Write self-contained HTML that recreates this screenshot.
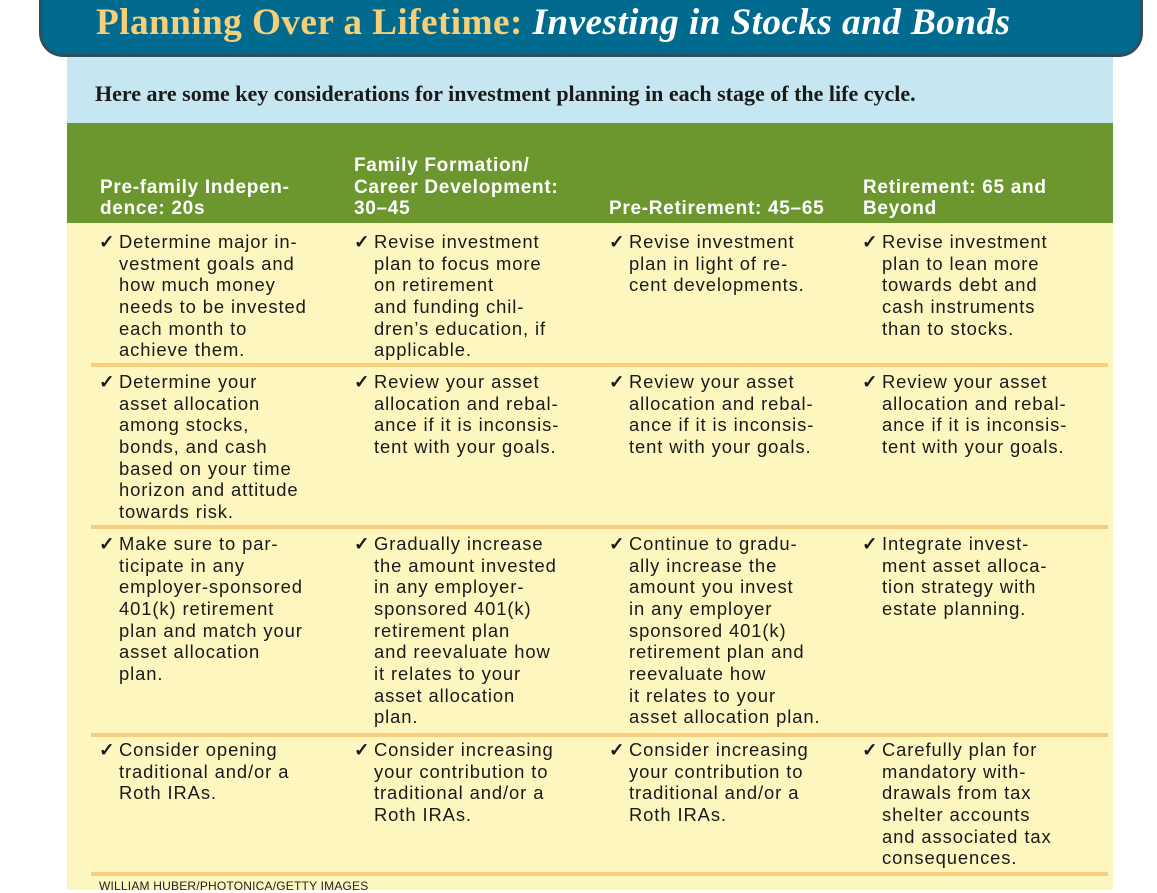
<!DOCTYPE html>
<html><head><meta charset="utf-8">
<style>
body{margin:0;width:1157px;height:890px;overflow:hidden;background:#fff;position:relative;font-family:"Liberation Sans",Arial,sans-serif}
.abs{position:absolute}
#title{left:39px;top:-4px;width:1098px;height:58px;background:#006b8f;border:3px solid #2e4f5e;border-top:none;border-radius:0 0 24px 24px}
#title .t{position:absolute;left:54px;top:5px;font-family:"Liberation Serif",serif;font-size:37.3px;font-weight:bold;color:#f6cf78;white-space:nowrap;letter-spacing:0.4px}
#title .t i{color:#fff}
#sub{left:67px;top:57px;width:1046px;height:66px;background:#c6e7f1}
#sub span{position:absolute;left:28px;top:24px;font-family:"Liberation Serif",serif;font-size:22px;font-weight:bold;color:#1a1a1a;white-space:nowrap}
#head{left:67px;top:123px;width:1046px;height:100px;background:#6c972f}
.h{position:absolute;color:#fff;font-weight:bold;font-size:19px;line-height:21.7px;white-space:nowrap;bottom:3px;letter-spacing:0.7px}
#body{left:67px;top:223px;width:1046px;height:667px;background:#fef6bf}
.rule{position:absolute;left:91px;width:1017px;height:4px;background:#f8cd7b}
.c{position:absolute;font-size:18.4px;line-height:21.65px;color:#1a1a1a;white-space:pre;letter-spacing:0.9px}
.c .ck{position:absolute;left:-20px;top:0;font-weight:bold}
#credit{left:99px;top:879px;font-size:12px;color:#222;letter-spacing:0.2px}
</style></head><body>
<div id="title" class="abs"><div class="t">Planning Over a Lifetime: <i>Investing in Stocks and Bonds</i></div></div>
<div id="sub" class="abs"><span>Here are some key considerations for investment planning in each stage of the life cycle.</span></div>
<div id="head" class="abs">
<div class="h" style="left:33px">Pre-family Indepen-<br>dence: 20s</div>
<div class="h" style="left:287px">Family Formation/<br>Career Development:<br>30–45</div>
<div class="h" style="left:542px">Pre-Retirement: 45–65</div>
<div class="h" style="left:796px">Retirement: 65 and<br>Beyond</div>
</div>
<div id="body" class="abs"></div>
<div class="rule" style="top:363px"></div>
<div class="rule" style="top:525px"></div>
<div class="rule" style="top:733px"></div>
<div class="rule" style="top:872px"></div>

<div class="c" style="left:119px;top:231px"><span class="ck">✓</span>Determine major in-
vestment goals and
how much money
needs to be invested
each month to
achieve them.</div>
<div class="c" style="left:374px;top:231px"><span class="ck">✓</span>Revise investment
plan to focus more
on retirement
and funding chil-
dren’s education, if
applicable.</div>
<div class="c" style="left:629px;top:231px"><span class="ck">✓</span>Revise investment
plan in light of re-
cent developments.</div>
<div class="c" style="left:882px;top:231px"><span class="ck">✓</span>Revise investment
plan to lean more
towards debt and
cash instruments
than to stocks.</div>

<div class="c" style="left:119px;top:371px"><span class="ck">✓</span>Determine your
asset allocation
among stocks,
bonds, and cash
based on your time
horizon and attitude
towards risk.</div>
<div class="c" style="left:374px;top:371px"><span class="ck">✓</span>Review your asset
allocation and rebal-
ance if it is inconsis-
tent with your goals.</div>
<div class="c" style="left:629px;top:371px"><span class="ck">✓</span>Review your asset
allocation and rebal-
ance if it is inconsis-
tent with your goals.</div>
<div class="c" style="left:882px;top:371px"><span class="ck">✓</span>Review your asset
allocation and rebal-
ance if it is inconsis-
tent with your goals.</div>

<div class="c" style="left:119px;top:533px"><span class="ck">✓</span>Make sure to par-
ticipate in any
employer-sponsored
401(k) retirement
plan and match your
asset allocation
plan.</div>
<div class="c" style="left:374px;top:533px"><span class="ck">✓</span>Gradually increase
the amount invested
in any employer-
sponsored 401(k)
retirement plan
and reevaluate how
it relates to your
asset allocation
plan.</div>
<div class="c" style="left:629px;top:533px"><span class="ck">✓</span>Continue to gradu-
ally increase the
amount you invest
in any employer
sponsored 401(k)
retirement plan and
reevaluate how
it relates to your
asset allocation plan.</div>
<div class="c" style="left:882px;top:533px"><span class="ck">✓</span>Integrate invest-
ment asset alloca-
tion strategy with
estate planning.</div>

<div class="c" style="left:119px;top:739px"><span class="ck">✓</span>Consider opening
traditional and/or a
Roth IRAs.</div>
<div class="c" style="left:374px;top:739px"><span class="ck">✓</span>Consider increasing
your contribution to
traditional and/or a
Roth IRAs.</div>
<div class="c" style="left:629px;top:739px"><span class="ck">✓</span>Consider increasing
your contribution to
traditional and/or a
Roth IRAs.</div>
<div class="c" style="left:882px;top:739px"><span class="ck">✓</span>Carefully plan for
mandatory with-
drawals from tax
shelter accounts
and associated tax
consequences.</div>
<div id="credit" class="abs">WILLIAM HUBER/PHOTONICA/GETTY IMAGES</div>
</body></html>
